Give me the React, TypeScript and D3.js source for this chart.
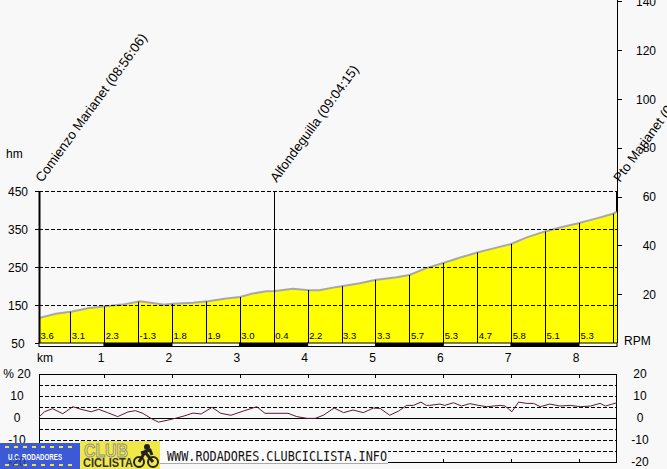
import * as d3 from "d3"

// elevation profile (km, hm)
const profileKm = [0.04, 0.29, 0.53, 0.78, 1.03, 1.27, 1.53, 1.69, 1.89, 2.02, 2.31, 2.53, 2.8, 3.0, 3.19, 3.39, 3.52, 3.78, 4.02, 4.17, 4.41, 4.77, 4.99, 5.31, 5.5, 5.75, 6.01, 6.25, 6.5, 6.74, 6.99, 7.23, 7.49, 7.72, 7.99, 8.26, 8.5, 8.56]
const profileHm = [116, 127, 133, 142, 147, 151, 160, 156, 151, 153, 156, 160, 167, 171, 180, 186, 187, 193, 189, 189, 197, 207, 216, 223, 229, 247, 261, 275, 288, 299, 310, 328, 343, 354, 365, 378, 390, 396]

// half-km segments and their average gradient
const segmentKm = [0.04, 0.5, 1, 1.5, 2, 2.5, 3, 3.5, 4, 4.5, 5, 5.5, 6, 6.5, 7, 7.5, 8]
const segmentGrade = ["3.6", "3.1", "2.3", "-1.3", "1.8", "1.9", "3.0", "0.4", "2.2", "3.3", "3.3", "5.7", "5.3", "4.7", "5.8", "5.1", "5.3"]
const dividerKm = [0.5, 1, 1.5, 2, 2.5, 3, 3.5, 4, 4.5, 5, 5.5, 6, 6.5, 7, 7.5, 8, 8.5]

// gradient (%) trace for the lower panel
const gradeKm = [0.04, 0.12, 0.24, 0.39, 0.54, 0.66, 0.81, 0.92, 1.05, 1.2, 1.35, 1.46, 1.57, 1.69, 1.8, 1.94, 2.06, 2.18, 2.31, 2.43, 2.59, 2.72, 2.87, 3.05, 3.25, 3.37, 3.71, 3.84, 3.99, 4.11, 4.23, 4.39, 4.53, 4.67, 4.82, 4.97, 5.07, 5.21, 5.34, 5.46, 5.56, 5.67, 5.75, 5.8, 5.95, 6.02, 6.15, 6.27, 6.39, 6.52, 6.64, 6.84, 6.91, 7.01, 7.11, 7.23, 7.33, 7.43, 7.57, 7.72, 7.87, 8.02, 8.17, 8.31, 8.39, 8.48, 8.56]
const gradeVal = [0.3, 2.7, 4.1, 1.8, 5.0, 3.8, 2.7, 3.8, 2.3, 0.5, 2.6, 3.2, 2.0, -0.3, -2.0, -1.1, -0.2, 0.8, 2.1, 1.7, 4.7, 2.0, 1.1, 3.0, 5.0, 2.0, 2.0, 0.5, -0.3, -0.3, 1.1, 4.4, 2.3, 3.5, 2.3, 4.4, 4.2, 1.1, 3.0, 5.6, 5.6, 7.1, 5.6, 5.6, 6.2, 5.6, 6.8, 5.3, 6.4, 5.6, 5.0, 5.6, 5.3, 2.7, 7.1, 6.5, 6.5, 5.0, 6.2, 5.3, 5.6, 5.0, 5.3, 6.5, 5.3, 6.1, 6.8]

const markerKm = [0.04, 3.5, 8.56]
const markerLabel = ["Comienzo Marianet (08:56:06)", "Alfondeguilla (09:04:15)", "Pto Marianet (09:19:52)"]

const hmTicks = [50, 150, 250, 350, 450]
const hmGrid = [150, 250, 350, 450]
const rpmTicks = [20, 40, 60, 80, 100, 120, 140]
const kmTicks = [1, 2, 3, 4, 5, 6, 7, 8]
const kmBands = [0.04, 1, 2, 3, 4, 5, 6, 7, 8, 8.56]
const gradeTicks = [20, 10, 0, -10, -20]
const gradeGrid = [15, 10, 5, -5, -10, -15]

const W = 667
const H = 469
const FONT = "Liberation Sans, Arial, sans-serif"

export default function App() {
  const x = d3.scaleLinear().domain([0.04, 8.56]).range([39, 617])
  const yHm = d3.scaleLinear().domain([50, 450]).range([343, 191])
  const yRpm = d3.scaleLinear().domain([0, 140]).range([343, 1.4])
  const yGr = d3.scaleLinear().domain([-20, 20]).range([461.7, 373.7])
  const hmAt = d3.scaleLinear().domain(profileKm).range(profileHm)

  const pts = profileKm.map((k, i) => [k, profileHm[i]] as [number, number])
  const area = d3
    .area<[number, number]>()
    .x((d) => x(d[0]))
    .y0(yHm(50))
    .y1((d) => yHm(d[1]))
  const line = d3
    .line<[number, number]>()
    .x((d) => x(d[0]))
    .y((d) => yHm(d[1]))
  const gradeLine = d3
    .line<number>()
    .x((_, i) => x(gradeKm[i]))
    .y((d) => yGr(d))

  return (
    <svg width={W} height={H} style={{ position: "absolute", left: 0, top: 0, background: "#f8f8f8" }} fontFamily={FONT}>
      <rect width={W} height={H} fill="#f8f8f8" />

      {/* profile */}
      <path d={area(pts) || ""} fill="#ffff00" />
      <path d={line(pts) || ""} fill="none" stroke="#a8a8a8" strokeWidth={2} />

      {hmGrid.map((v) => (
        <line key={v} x1={39} x2={617} y1={yHm(v) + 0.5} y2={yHm(v) + 0.5} stroke="#000" strokeDasharray="4,2" />
      ))}

      {dividerKm.map((k) => (
        <line key={k} x1={Math.round(x(k)) + 0.5} x2={Math.round(x(k)) + 0.5} y1={k === 3.5 ? yHm(450) : yHm(hmAt(k))} y2={343} stroke="#000" />
      ))}

      {segmentKm.map((k, i) => (
        <text key={k} x={x(k) + 1.5} y={339} fontSize={9.5} fill="#000">
          {segmentGrade[i]}
        </text>
      ))}

      {/* km bar */}
      {kmBands.slice(0, -1).map((k, i) => (
        <rect key={k} x={x(k)} y={343} width={x(kmBands[i + 1]) - x(k)} height={3.5} fill={i % 2 ? "#000" : "#fff"} stroke="#000" strokeWidth={1} />
      ))}

      {/* left axis */}
      <line x1={39.5} x2={39.5} y1={yHm(450)} y2={343} stroke="#000" strokeWidth={2} />
      {hmTicks.map((v) => (
        <g key={v}>
          <line x1={35} x2={39} y1={yHm(v) + 0.5} y2={yHm(v) + 0.5} stroke="#000" />
          <text x={18} y={yHm(v) + 4.5} fontSize={12} textAnchor="middle">{v}</text>
        </g>
      ))}
      <text x={6} y={158} fontSize={12}>hm</text>

      {/* right axis */}
      <line x1={617.5} x2={617.5} y1={0} y2={343} stroke="#000" />
      <line x1={617} x2={617} y1={yHm(450)} y2={yHm(hmAt(8.56))} stroke="#000" strokeWidth={2} />
      {rpmTicks.map((v) => (
        <g key={v}>
          <line x1={617} x2={622} y1={Math.round(yRpm(v)) + 0.5} y2={Math.round(yRpm(v)) + 0.5} stroke="#000" />
          <text x={656} y={yRpm(v) + 4.5} fontSize={12} textAnchor="end">{v}</text>
        </g>
      ))}
      <text x={624} y={345} fontSize={12}>RPM</text>

      {/* km labels */}
      <text x={37} y={362} fontSize={12}>km</text>
      {kmTicks.map((k) => (
        <text key={k} x={x(k) - 3} y={362} fontSize={12} textAnchor="middle">{k}</text>
      ))}

      {/* location labels */}
      {markerKm.map((k, i) => (
        <text key={k} transform={`translate(${x(k) + 3},183) rotate(-54)`} fontSize={13.3}>
          {markerLabel[i]}
        </text>
      ))}

      {/* gradient panel */}
      {gradeGrid.map((v) => (
        <line key={v} x1={39} x2={617} y1={Math.round(yGr(v)) + 0.5} y2={Math.round(yGr(v)) + 0.5} stroke="#000" strokeDasharray="4,2" />
      ))}
      <line x1={39} x2={617} y1={Math.round(yGr(0)) + 0.5} y2={Math.round(yGr(0)) + 0.5} stroke="#000" />
      <rect x={39.5} y={374.5} width={577} height={88} fill="none" stroke="#000" />
      {kmTicks.map((k) => (
        <g key={k}>
          <line x1={Math.round(x(k)) + 0.5} x2={Math.round(x(k)) + 0.5} y1={374} y2={378} stroke="#000" />
          <line x1={Math.round(x(k)) + 0.5} x2={Math.round(x(k)) + 0.5} y1={459} y2={463} stroke="#000" />
        </g>
      ))}
      <path d={gradeLine(gradeVal) || ""} fill="none" stroke="#5a1a3a" strokeWidth={1} />
      {gradeTicks.map((v) => (
        <g key={v}>
          <text x={17} y={yGr(v) + 4.5} fontSize={12} textAnchor="middle">{v === 20 ? "% 20" : v}</text>
          <text x={640} y={yGr(v) + 4.5} fontSize={12} textAnchor="middle">{v}</text>
        </g>
      ))}

      {/* club banner */}
      <rect x={0} y={443} width={80} height={26} fill="#3c5ad8" />
      {d3.range(8).map((i) => (
        <g key={i}>
          <rect x={5 + i * 9} y={446} width={4} height={2} fill="#f0e040" />
          <rect x={5 + i * 9} y={464} width={4} height={2} fill="#f0e040" />
        </g>
      ))}
      <text x={8} y={460} fontSize={9} fontWeight="bold" fill="#fff" textLength={54} lengthAdjust="spacingAndGlyphs">U.C. RODADORES</text>
      <rect x={80} y={441} width={80} height={28} fill="#f0e848" />
      <text x={84} y={457} fontSize={18} fontWeight="bold" fill="none" stroke="#909090" strokeWidth={1} textLength={44} lengthAdjust="spacingAndGlyphs">CLUB</text>
      <text x={83} y={467} fontSize={12} fontWeight="bold" fill="#333" textLength={50} lengthAdjust="spacingAndGlyphs">CICLISTA</text>
      <circle cx={139} cy={462} r={5} fill="none" stroke="#222" strokeWidth={2} />
      <circle cx={153} cy={462} r={5} fill="none" stroke="#222" strokeWidth={2} />
      <path d="M139,462 L145,452 L153,462 M141,453 L150,450 L152,455" fill="none" stroke="#222" strokeWidth={3} />
      <circle cx={147} cy={447} r={3} fill="#222" />
      <rect x={160} y={442} width={228} height={21} fill="#fcfcfc" />
      <line x1={160} x2={388} y1={463.5} y2={463.5} stroke="#aaa" />
      <text x={167} y={461} fontSize={14} fontFamily="DejaVu Sans Mono, monospace" fill="#111" textLength={220} lengthAdjust="spacingAndGlyphs">
        WWW.RODADORES.CLUBCICLISTA.INFO
      </text>
      <text x={17} y={yGr(-20) + 4.5} fontSize={12} textAnchor="middle" fill="#000" opacity={0.4}>-20</text>
    </svg>
  )
}
